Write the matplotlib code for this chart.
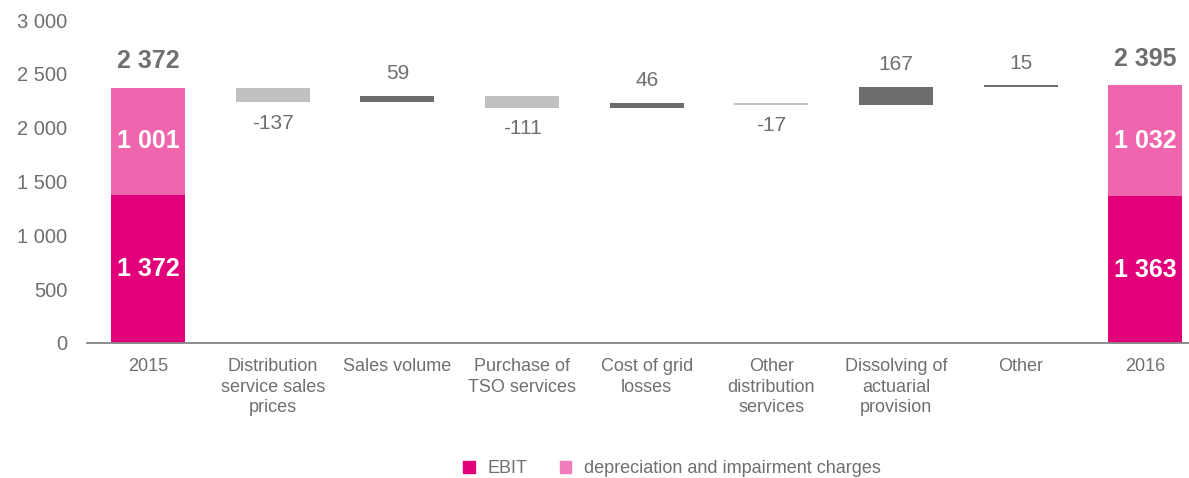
import numpy as np
import matplotlib
matplotlib.use("Agg")
import matplotlib.pyplot as plt
from matplotlib.patches import Patch

plt.rcParams['font.family'] = ['Liberation Sans', 'DejaVu Sans']

# Bridge from 2015 to 2016 (EBITDA split into EBIT and D&A)
categories = ["2015", "Distribution\nservice sales\nprices", "Sales volume",
              "Purchase of\nTSO services", "Cost of grid\nlosses",
              "Other\ndistribution\nservices", "Dissolving of\nactuarial\nprovision",
              "Other", "2016"]
ebit = [1372, 1363]
depreciation = [1001, 1032]
totals = [2372, 2395]
changes = [-137, 59, -111, 46, -17, 167, 15]

EBIT_COL = "#e2007a"
DEP_COL = "#ef66ae"
UP_COL = "#6d6d6d"
DOWN_COL = "#c0c0c0"
TEXT_COL = "#6f6f6f"


def fmt(v):
    return f"{v:,}".replace(",", " ")


fig = plt.figure(figsize=(11.89, 4.78), dpi=100)
ax = fig.add_axes([87 / 1189, 135 / 478, 1 - 87 / 1189, 323 / 478])

x = np.arange(len(categories))
w = 0.595

# start and end totals
for i, xi in enumerate([x[0], x[-1]]):
    ax.bar(xi, ebit[i], width=w, color=EBIT_COL)
    ax.bar(xi, depreciation[i], bottom=ebit[i], width=w, color=DEP_COL)
    ax.text(xi, ebit[i] / 2, fmt(ebit[i]), ha="center", va="center",
            color="white", fontsize=18, fontweight="bold")
    ax.text(xi, ebit[i] + depreciation[i] / 2, fmt(depreciation[i]), ha="center",
            va="center", color="white", fontsize=18, fontweight="bold")
    ax.annotate(fmt(totals[i]), (xi, ebit[i] + depreciation[i]), xytext=(0, 19),
                textcoords="offset points", ha="center", va="center",
                color=TEXT_COL, fontsize=18, fontweight="bold")

# floating change bars
level = totals[0]
for j, d in enumerate(changes):
    xi = x[j + 1]
    start = level
    level = level + d
    col = UP_COL if d > 0 else DOWN_COL
    ax.bar(xi, abs(d), bottom=min(start, level), width=w, color=col)
    if d > 0:
        ax.annotate(fmt(d), (xi, level), xytext=(0, 16), textcoords="offset points",
                    ha="center", va="center", color=TEXT_COL, fontsize=15)
    else:
        ax.annotate(fmt(d), (xi, level), xytext=(0, -15), textcoords="offset points",
                    ha="center", va="center", color=TEXT_COL, fontsize=15)

ax.set_xlim(-0.49, 8.35)
ax.set_ylim(0, 3000)
ax.set_yticks(np.arange(0, 3001, 500))
ax.set_yticklabels([fmt(v) for v in range(0, 3001, 500)])
ax.set_xticks(x)
ax.set_xticklabels(categories, fontsize=13, color=TEXT_COL, va="top", linespacing=1.27)
ax.tick_params(axis="y", length=0, pad=14, labelsize=14.5, labelcolor=TEXT_COL)
ax.tick_params(axis="x", length=0, pad=11)
for s in ["top", "right", "left"]:
    ax.spines[s].set_visible(False)
ax.spines["bottom"].set_color("#868686")
ax.spines["bottom"].set_linewidth(1.3)

handles = [Patch(color=EBIT_COL, label="EBIT"),
           Patch(color="#f07cbb", label="depreciation and impairment charges")]
fig.legend(handles=handles, loc="center", bbox_to_anchor=(0.565, 0.02), ncol=2,
           frameon=False, handlelength=0.65, handleheight=0.65, handletextpad=0.7,
           columnspacing=1.8, labelcolor=TEXT_COL, prop={"size": 13})

fig.savefig("out.png", dpi=100)
